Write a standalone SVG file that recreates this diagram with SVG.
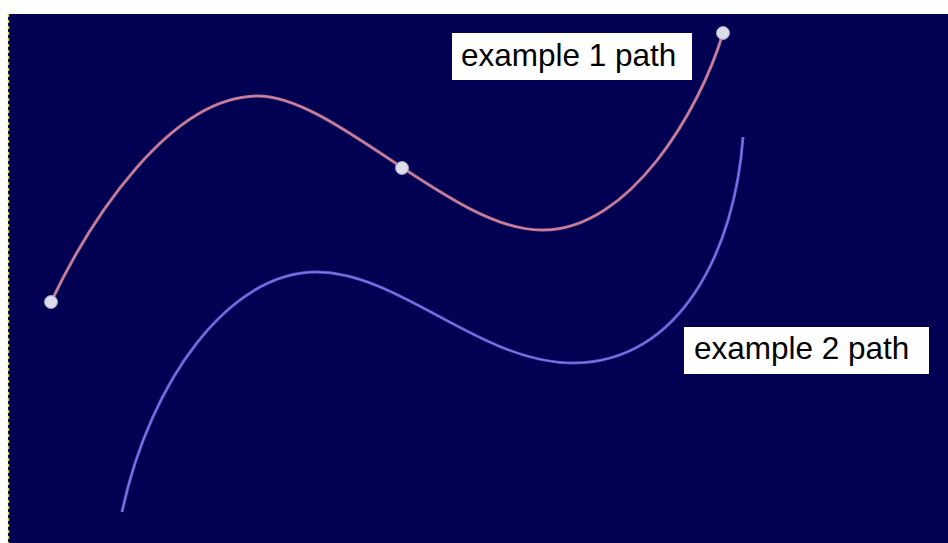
<svg xmlns="http://www.w3.org/2000/svg" width="948" height="543" viewBox="0 0 948 543">
<style>
.lbl{font-family:"Liberation Sans",Arial,sans-serif;font-size:31.5px;fill:#000}
.box{fill:#ffffff}
.dot{fill:#dcdcea;stroke:#a0a0b8;stroke-width:1}
</style>
<rect x="0" y="0" width="948" height="543" fill="#ffffff"/>
<rect x="8" y="14" width="940" height="529" fill="#020052"/>
<line x1="8.5" y1="14" x2="8.5" y2="543" stroke="#d8d820" stroke-width="1.5" stroke-dasharray="3,3"/>
<g id="connectors">
<path id="path1" d="M51,302 C90,220 170,96 258,96 C335,96 455,232 543,230 C630,230 700,110 723,33" fill="none" stroke="#b8708e" stroke-width="3"/>
<path d="M51,302 C90,220 170,96 258,96 C335,96 455,232 543,230 C630,230 700,110 723,33" fill="none" stroke="#e0a0c0" stroke-width="0.8" opacity="0.7"/>
<path id="path2" d="M122,512 C150,380 230,272 316,272 C400,272 480,363 573,363 C680,363 735,250 743,137" fill="none" stroke="#5a5ad0" stroke-width="3"/>
<path d="M122,512 C150,380 230,272 316,272 C400,272 480,363 573,363 C680,363 735,250 743,137" fill="none" stroke="#a0a0f0" stroke-width="0.8" opacity="0.7"/>
</g>
<g id="p1start"><circle class="dot" cx="51" cy="302" r="6.5"/></g>
<g id="p1mid"><circle class="dot" cx="402" cy="168" r="6.5"/></g>
<g id="p1end"><circle class="dot" cx="723" cy="33" r="6.5"/></g>
<g id="label1"><rect class="box" x="452" y="33" width="240" height="47"/><text class="lbl" x="461" y="66">example 1 path</text></g>
<g id="label2"><rect class="box" x="684" y="327" width="245" height="47"/><text class="lbl" x="694" y="359">example 2 path</text></g>
</svg>
